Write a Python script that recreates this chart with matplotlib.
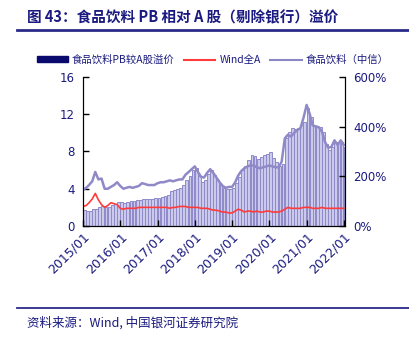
import matplotlib
matplotlib.use("Agg")
import matplotlib.pyplot as plt
import matplotlib.dates as mdates
import pandas as pd
from matplotlib.patches import Patch
from matplotlib.lines import Line2D

plt.rcParams['font.family'] = ['DejaVu Sans', 'Noto Sans CJK SC']

# monthly data, 2015/01 - 2022/01
dates = pd.date_range("2015-01-01", "2022-01-01", freq="MS")

food_pb = [
    3.9, 4.1, 4.4, 4.8, 5.8, 5.0, 5.1, 4.0, 4.0, 4.2, 4.4, 4.7,
    4.3, 4.0, 4.1, 4.2, 4.1, 4.2, 4.3, 4.6, 4.5, 4.4, 4.4, 4.4,
    4.6, 4.7, 4.7, 4.8, 4.9, 4.8, 4.9, 5.0, 5.0, 5.5, 5.8, 6.1,
    6.4, 5.8, 5.3, 5.2, 5.7, 6.1, 5.7, 5.2, 4.7, 4.3, 4.1, 4.2,
    4.2, 4.7, 5.4, 5.9, 6.2, 6.4, 6.5, 6.5, 6.3, 6.2, 6.3, 6.4,
    6.5, 6.4, 6.3, 6.3, 6.9, 9.4, 9.8, 9.6, 10.0, 10.3, 10.5, 11.6,
    13.0, 12.0, 10.8, 10.7, 10.6, 10.1, 9.0, 8.4, 8.5, 9.2, 8.7, 9.2,
    8.7,
]

wind_a_pb = [
    2.1, 2.2, 2.5, 2.9, 3.5, 2.8, 2.3, 2.0, 2.2, 2.5, 2.4, 2.3,
    1.9, 1.8, 1.9, 1.9, 1.9, 1.9, 2.0, 2.0, 2.0, 2.0, 2.0, 2.0,
    2.0, 2.0, 2.0, 2.0, 1.9, 2.0, 2.0, 2.1, 2.1, 2.1, 2.0, 2.0,
    2.0, 2.0, 1.9, 1.9, 1.9, 1.8, 1.7, 1.7, 1.6, 1.5, 1.5, 1.4,
    1.4, 1.6, 1.8, 1.7, 1.5, 1.6, 1.6, 1.5, 1.6, 1.5, 1.5, 1.6,
    1.6, 1.5, 1.5, 1.5, 1.6, 1.8, 2.0, 1.9, 1.9, 1.9, 1.9, 2.0,
    2.0, 2.0, 1.9, 1.9, 1.9, 2.0, 1.9, 1.9, 1.9, 1.9, 1.9, 1.9,
    1.9,
]

premium = [
    65, 60, 62, 70, 68, 75, 80, 78, 75, 85, 90, 97,
    95, 92, 98, 100, 102, 105, 104, 108, 110, 108, 110, 113,
    113, 118, 122, 125, 140, 145, 150, 155, 165, 185, 200, 225,
    234, 200, 177, 185, 210, 226, 205, 185, 170, 153, 150, 148,
    153, 175, 198, 225, 240, 265, 286, 280, 270, 278, 285, 290,
    298, 275, 258, 240, 250, 355, 380, 395, 390, 395, 405, 419,
    476, 440, 407, 400, 399, 379, 330, 306, 320, 339, 335, 339,
    318,
]

left_ticks = [0, 4, 8, 12, 16]
right_ticks = [0, 200, 400, 600]

navy = '#1a1a80'
cjk = ['Noto Sans CJK SC', 'DejaVu Sans']

fig = plt.figure(figsize=(4.09, 3.39), dpi=100)
ax = fig.add_axes([0.203, 0.3333, 0.6405, 0.4396])
ax_r = ax.twinx()
ax.set_zorder(ax_r.get_zorder() + 1)
ax.patch.set_visible(False)

# premium bars on the right axis
ax_r.bar(dates, premium, width=27, align='edge', color='#cccaea',
         edgecolor='#8e8acb', linewidth=0.7)
ax_r.set_ylim(0, 600)
ax_r.set_yticks(right_ticks)
ax_r.set_yticklabels([f"{t}%" for t in right_ticks])

# PB lines on the left axis
ax.plot(dates, wind_a_pb, color='#ff3b3b', lw=1.2)
ax.plot(dates, food_pb, color='#8f89c8', lw=1.8)
ax.set_ylim(0, 16)
ax.set_yticks(left_ticks)

ax.set_xlim(pd.Timestamp("2015-01-01"), pd.Timestamp("2022-01-12"))
ax.xaxis.set_major_locator(mdates.YearLocator())
ax.xaxis.set_major_formatter(mdates.DateFormatter("%Y/%m"))

for a in (ax, ax_r):
    a.spines['top'].set_visible(False)
    a.tick_params(direction='in', length=4, width=1, colors='black',
                  labelcolor=navy, labelsize=8.5, pad=6)
ax.tick_params(axis='x', labelsize=9, pad=3)
for lbl in ax.get_xticklabels():
    lbl.set_rotation(45)
    lbl.set_ha('right')
    lbl.set_rotation_mode('anchor')

handles = [
    Patch(color='#0a0a6e'),
    Line2D([], [], color='#ff3b3b', lw=1.5),
    Line2D([], [], color='#8b86c4', lw=1.5),
]
labels = ['食品饮料PB较A股溢价', 'Wind全A', '食品饮料（中信）']
fig.legend(handles, labels, loc='center', bbox_to_anchor=(0.52, 0.823),
           ncol=3, frameon=False, handlelength=3.0, handleheight=0.5,
           handletextpad=0.4, columnspacing=0.9,
           prop={'family': cjk, 'size': 7.5}, labelcolor=navy)

fig.text(0.066, 0.95, '图 43：食品饮料 PB 相对 A 股（剔除银行）溢价',
         family=cjk, fontsize=10.5, fontweight='bold', color=navy,
         va='center', ha='left')
fig.add_artist(Line2D([0.042, 1.0], [0.912, 0.912], color='#2a2a8a', lw=2))
fig.add_artist(Line2D([0.042, 1.0], [0.092, 0.092], color='#2a2a8a', lw=1.3))
fig.text(0.066, 0.048, '资料来源：Wind, 中国银河证券研究院', family=cjk,
         fontsize=9, style='italic', color=navy, va='center', ha='left')

fig.savefig("out.png", dpi=100)
